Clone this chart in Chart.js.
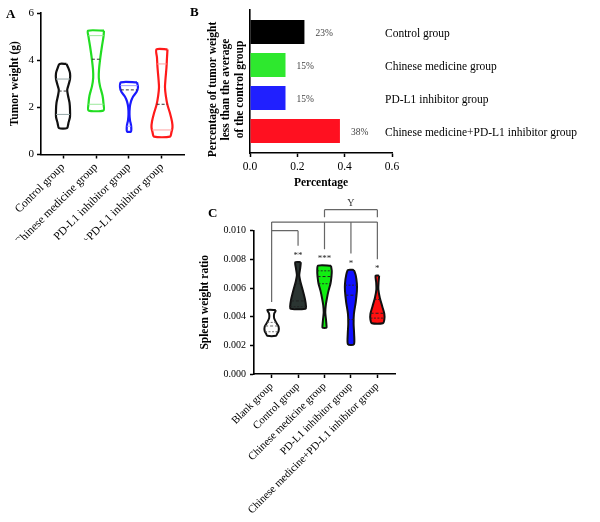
<!DOCTYPE html>
<html><head><meta charset="utf-8">
<script src="https://cdn.jsdelivr.net/npm/chart.js@4.4.1/dist/chart.umd.min.js"></script>
<style>
html,body{margin:0;padding:0;background:#fff;}
#wrap{position:relative;width:600px;height:522px;overflow:hidden;font-family:"Liberation Serif",serif;background:#fff;}
canvas{position:absolute;}
.lbl{position:absolute;font-weight:bold;font-size:13px;line-height:1;color:#000;}
</style></head><body>
<div id="wrap">
<canvas id="cA" width="200" height="240" style="left:0;top:0"></canvas>
<canvas id="cB" width="410" height="200" style="left:190px;top:0"></canvas>
<canvas id="cC" width="240" height="327" style="left:170px;top:195px"></canvas>
<div class="lbl" style="left:6px;top:7px">A</div>
<div class="lbl" style="left:190px;top:5px">B</div>
<div class="lbl" style="left:208px;top:206px">C</div>
</div>
<script>
// ---------- Panel A data: tumor weight (g) ----------
const aCategories = ['Control group','Chinese medicine group','PD-L1 inhibitor group','Chinese medicine+PD-L1 inhibitor group'];
const aProfileY = [
  [3.84,3.65,3.45,3.2,2.95,2.74,2.5,2.2,1.9,1.6,1.35,1.12],
  [5.25,5.0,4.6,4.1,3.6,3.25,2.9,2.5,2.15,1.87],
  [3.06,2.85,2.65,2.45,2.25,2.0,1.7,1.45,1.25,1.1,0.97],
  [4.46,4.1,3.7,3.2,2.85,2.5,2.1,1.75,1.4,1.15,0.95,0.76]
];
const aDensity = [
  [0.35,0.55,0.7,0.7,0.55,0.42,0.5,0.65,0.7,0.7,0.55,0.4],
  [0.8,0.75,0.6,0.43,0.3,0.28,0.4,0.65,0.75,0.75],
  [0.8,0.9,0.75,0.4,0.2,0.08,0.05,0.1,0.2,0.23,0.2],
  [0.55,0.5,0.45,0.35,0.3,0.38,0.55,0.8,1.0,1.05,0.95,0.8]
];
const aMedian = [2.69,4.04,2.74,2.13];
const aQ1 = [1.70,2.13,1.2,1.04];
const aQ3 = [3.2,5.04,2.92,3.84];
const aTicks = [0,2,4,6];

// ---------- Panel B data: percentage below control mean ----------
const bCategories = ['Control group','Chinese medicine group','PD-L1 inhibitor group','Chinese medicine+PD-L1 inhibitor group'];
const bValues = [0.23,0.15,0.15,0.38];
const bTicks = [0,0.2,0.4,0.6];

// ---------- Panel C data: spleen weight ratio ----------
const cCategories = ['Blank group','Control group','Chinese medicine group','PD-L1 inhibitor group','Chinese medicine+PD-L1 inhibitor group'];
const cProfileY = [
  [0.00447,0.00437,0.0042,0.0039,0.0036,0.0033,0.0030,0.0028,0.00267],
  [0.0078,0.0074,0.0069,0.0064,0.0059,0.0052,0.0047,0.00455],
  [0.00756,0.0072,0.0068,0.0063,0.0058,0.0053,0.0048,0.0043,0.0038,0.0034,0.00323],
  [0.00726,0.0069,0.0063,0.0058,0.0050,0.0042,0.0035,0.0028,0.00207],
  [0.00686,0.0064,0.0059,0.0053,0.0047,0.0042,0.0038,0.00354]
];
const cDensity = [
  [0.42,0.38,0.25,0.25,0.45,0.7,0.7,0.55,0.45],
  [0.28,0.22,0.12,0.25,0.45,0.7,0.8,0.75],
  [0.65,0.73,0.7,0.6,0.4,0.25,0.13,0.08,0.15,0.2,0.2],
  [0.3,0.48,0.6,0.6,0.48,0.3,0.27,0.32,0.3],
  [0.18,0.12,0.1,0.25,0.5,0.7,0.7,0.55]
];
const cMedian = [0.00335,0.0051,0.0068,0.0055,0.00424];
const cQ1 = [0.00295,0.0047,0.0063,0.0038,0.0039];
const cQ3 = [0.0036,0.0063,0.0072,0.0062,0.0052];
const cSignif = ['','**','***','*','*'];
const cBrackets = [
  {from:0, to:4, level:0.0106, drops:[0,2,3,4]},
  {from:0, to:1, level:0.0100, drops:[1]},
  {from:2, to:4, level:0.01147, drops:[2,4], label:'Y'}
];
const cTicks = [0,0.002,0.004,0.006,0.008,0.010];

// ---------- styling ----------
const FONT = '"Liberation Serif", serif';
Chart.defaults.font.family = FONT;
Chart.defaults.color = '#000';
Chart.defaults.animation = false;
Chart.defaults.plugins.legend.display = false;
Chart.defaults.plugins.tooltip.enabled = false;

const aLine = ['#111111','#22dd22','#1a1aff','#ff1a1a'];
const aLight = ['#94a6a6','#9be89b','#9a9aff','#ff9f9f'];
const bColors = ['#000000','#2ee82e','#2020ff','#ff1020'];
const cFill = ['#ffffff','#2b3532','#11ee11','#1010ff','#ff1010'];
const A_SCALE = 0.303, C_SCALE = 0.376;

function violinPoints(center, ys, ds, scale) {
  const right = ys.map((y,k)=>({x: center + ds[k]*scale, y}));
  const left = ys.map((y,k)=>({x: center - ds[k]*scale, y})).reverse();
  return right.concat(left, [right[0]]);
}
function halfWidthAt(ys, ds, v) {
  for (let k=0;k<ys.length-1;k++){
    const y0=ys[k], y1=ys[k+1];
    if (v<=y0 && v>=y1) { const t=(y0-v)/(y0-y1); return ds[k]+(ds[k+1]-ds[k])*t; }
  }
  return 0;
}
function statLine(center, ys, ds, scale, v, color, dash, width) {
  const w = halfWidthAt(ys, ds, v)*scale;
  return {data:[{x:center-w,y:v},{x:center+w,y:v}], showLine:true, borderColor:color,
    borderWidth:width, borderDash:dash, pointRadius:0, fill:false, order:1, tension:0};
}
const tickGrid = {display:true, drawOnChartArea:false, drawTicks:true, tickLength:4, tickColor:'#000', tickWidth:1.5};
const axisBorder = {display:true, color:'#000', width:1.6};

// ---------- Chart A ----------
const dsA = [];
aCategories.forEach((c,i)=>{
  dsA.push({data: violinPoints(i, aProfileY[i], aDensity[i], A_SCALE), showLine:true,
    borderColor:aLine[i], borderWidth:2.2, backgroundColor:'rgba(255,255,255,0)', fill:false,
    pointRadius:0, tension:0.25, order:2, borderJoinStyle:'round'});
  dsA.push(statLine(i, aProfileY[i], aDensity[i], A_SCALE, aQ3[i], aLight[i], [], 1));
  dsA.push(statLine(i, aProfileY[i], aDensity[i], A_SCALE, aQ1[i], aLight[i], [], 1));
  dsA.push(statLine(i, aProfileY[i], aDensity[i], A_SCALE, aMedian[i], '#333', [3,2], 1));
});
new Chart(document.getElementById('cA'), {
  type:'scatter',
  data:{datasets:dsA},
  options:{
    responsive:false,
    layout:{padding:{top:13,right:16,left:0,bottom:0}},
    scales:{
      x:{type:'linear', min:-0.667, max:3.667, offset:false,
        afterBuildTicks:s=>{s.ticks = aCategories.map((_,i)=>({value:i}));},
        afterFit:s=>{s.height = 85.5;},
        ticks:{autoSkip:false, minRotation:45, maxRotation:45, callback:v=>aCategories[v], font:{size:11.5}, padding:2},
        grid:tickGrid, border:axisBorder},
      y:{type:'linear', min:0, max:6,
        afterBuildTicks:s=>{s.ticks = aTicks.map(v=>({value:v}));},
        afterFit:s=>{s.width = 41;},
        ticks:{font:{size:11}, padding:3},
        grid:tickGrid, border:axisBorder,
        title:{display:true, text:'Tumor weight (g)', font:{size:11.5, weight:'bold'}, padding:{top:8,bottom:0}}}
    }
  }
});

// ---------- Chart B ----------
const barLabels = {id:'barLabels', afterDatasetsDraw(chart){
  const ctx = chart.ctx; const meta = chart.getDatasetMeta(0);
  const yS = chart.scales.y; const area = chart.chartArea;
  ctx.save();
  ctx.textAlign = 'left'; ctx.textBaseline = 'middle';
  ctx.font = '9.5px ' + FONT; ctx.fillStyle = '#444';
  meta.data.forEach((bar,i)=>{ ctx.fillText(Math.round(bValues[i]*100)+'%', bar.x+11, bar.y+1.5); });
  ctx.font = '11.5px ' + FONT; ctx.fillStyle = '#000';
  bCategories.forEach((c,i)=>{ ctx.fillText(c, area.right-7, yS.getPixelForValue(i)+2); });
  ctx.restore();
}};
new Chart(document.getElementById('cB'), {
  type:'bar',
  data:{datasets:[{data:bValues.map((v,i)=>({x:v,y:i})), backgroundColor:bColors, borderWidth:0,
    barPercentage:0.91, categoryPercentage:0.8}]},
  options:{
    indexAxis:'y', responsive:false,
    layout:{padding:{top:0,right:208,left:0,bottom:21}},
    plugins:{
      title:{display:true, position:'left', fullSize:true, align:'center',
        text:['Percentage of tumor weight','less than the average','of the control group'],
        font:{size:11.5, weight:'bold'}, color:'#000', padding:{top:15.8,bottom:0}},
      subtitle:{display:true, position:'top', fullSize:false, text:'',
        font:{size:1, lineHeight:0}, padding:{top:10,bottom:0}}
    },
    scales:{
      x:{type:'linear', min:0, max:0.6, offset:false,
        afterBuildTicks:s=>{s.ticks = bTicks.map(v=>({value:v}));},
        afterFit:s=>{s.height = 26;},
        ticks:{callback:v=>v.toFixed(1), font:{size:11.5}, padding:3},
        grid:tickGrid, border:axisBorder,
        title:{display:true, text:'Percentage', font:{size:11.5, weight:'bold'}, padding:{top:0,bottom:-11.2}}},
      y:{type:'linear', min:-0.667, max:3.667, reverse:true, offset:false,
        afterBuildTicks:s=>{s.ticks = bCategories.map((_,i)=>({value:i}));},
        afterFit:s=>{s.width = 2.8;},
        ticks:{display:false}, grid:{display:false, drawTicks:false, offset:false}, border:axisBorder}
    }
  },
  plugins:[barLabels]
});

// ---------- Chart C ----------
const cAnnotations = {id:'cAnnotations', afterDatasetsDraw(chart){
  const {ctx, scales:{x, y}} = chart;
  const topPx = i => y.getPixelForValue(cProfileY[i][0]);
  const starPx = i => topPx(i) - 8.5;
  const dropEnd = i => cSignif[i] ? starPx(i) - 8 : topPx(i) - 8;
  ctx.save();
  ctx.strokeStyle = '#666'; ctx.lineWidth = 1.2;
  cBrackets.forEach(b=>{
    const ly = y.getPixelForValue(b.level);
    ctx.beginPath();
    ctx.moveTo(x.getPixelForValue(b.from), ly); ctx.lineTo(x.getPixelForValue(b.to), ly);
    b.drops.forEach(i=>{ const px = x.getPixelForValue(i); ctx.moveTo(px, ly); ctx.lineTo(px, b.label ? ly+7.5 : dropEnd(i)); });
    ctx.stroke();
    if (b.label) {
      ctx.fillStyle = '#333'; ctx.font = '10px ' + FONT; ctx.textAlign = 'center'; ctx.textBaseline = 'alphabetic';
      ctx.fillText(b.label, x.getPixelForValue((b.from+b.to)/2), ly-3.4);
    }
  });
  ctx.fillStyle = '#222'; ctx.font = '9px ' + FONT; ctx.textAlign = 'center'; ctx.textBaseline = 'alphabetic';
  cSignif.forEach((s,i)=>{ if (s) ctx.fillText(s, x.getPixelForValue(i), starPx(i)+4.2); });
  ctx.restore();
}};
const dsC = [];
cCategories.forEach((c,i)=>{
  dsC.push({data: violinPoints(i, cProfileY[i], cDensity[i], C_SCALE), showLine:true,
    borderColor:'#111', borderWidth:2, backgroundColor:cFill[i], fill:'shape',
    pointRadius:0, tension:0.25, order:2, borderJoinStyle:'round'});
  const lc = i===0 ? '#666' : '#222';
  dsC.push(statLine(i, cProfileY[i], cDensity[i], C_SCALE, cQ3[i], lc, [2,1.5], 0.9));
  dsC.push(statLine(i, cProfileY[i], cDensity[i], C_SCALE, cQ1[i], lc, [2,1.5], 0.9));
  dsC.push(statLine(i, cProfileY[i], cDensity[i], C_SCALE, cMedian[i], lc, [3,2], 1));
});
new Chart(document.getElementById('cC'), {
  type:'scatter',
  data:{datasets:dsC},
  options:{
    responsive:false,
    layout:{padding:{top:35.7,right:15,left:0,bottom:0}},
    scales:{
      x:{type:'linear', min:-0.667, max:4.667, offset:false,
        afterBuildTicks:s=>{s.ticks = cCategories.map((_,i)=>({value:i}));},
        afterFit:s=>{s.height = 148;},
        ticks:{autoSkip:false, minRotation:45, maxRotation:45, callback:v=>cCategories[v], font:{size:10.8}, padding:2},
        grid:tickGrid, border:axisBorder},
      y:{type:'linear', min:0, max:0.010,
        afterBuildTicks:s=>{s.ticks = cTicks.map(v=>({value:v}));},
        afterFit:s=>{s.width = 84;},
        ticks:{callback:v=>v.toFixed(3), font:{size:10}, padding:4},
        grid:tickGrid, border:axisBorder,
        title:{display:true, text:'Spleen weight ratio', font:{size:11.5, weight:'bold'}, padding:{top:28,bottom:0}}}
    }
  },
  plugins:[cAnnotations]
});
</script>
</body></html>
